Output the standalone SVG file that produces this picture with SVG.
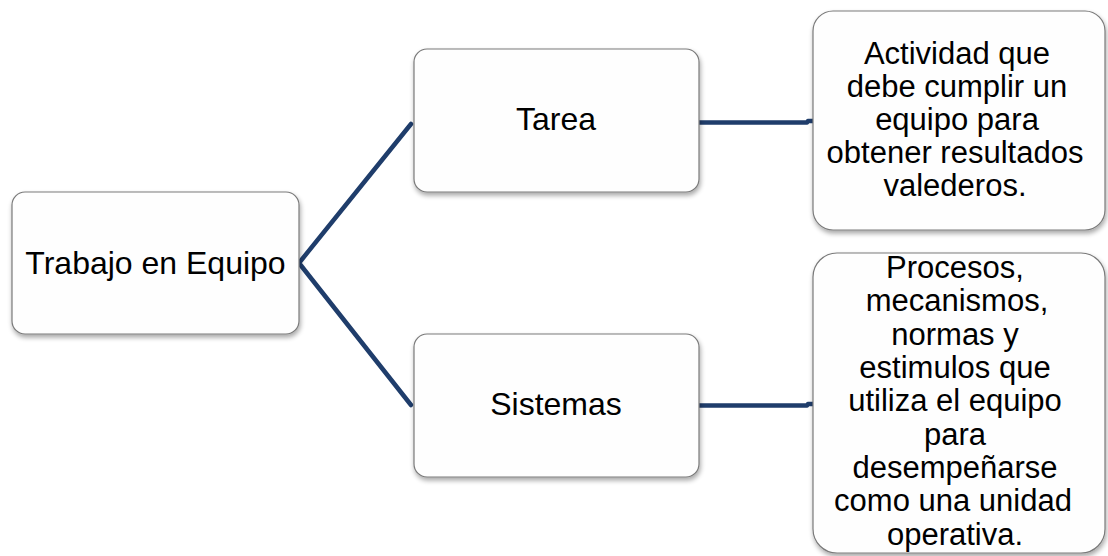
<svg xmlns="http://www.w3.org/2000/svg" width="1108" height="556" viewBox="0 0 1108 556">
<defs>
<filter id="sh" x="-10%" y="-10%" width="120%" height="125%">
<feGaussianBlur in="SourceAlpha" stdDeviation="2.5"/>
<feOffset dx="1" dy="3" result="b"/>
<feComponentTransfer><feFuncA type="linear" slope="0.35"/></feComponentTransfer>
<feMerge><feMergeNode/><feMergeNode in="SourceGraphic"/></feMerge>
</filter>
</defs>
<style>
.box{fill:#fefefe;stroke:#7a7a7a;stroke-width:1.2;filter:url(#sh)}
.t{font-family:"Liberation Sans",Arial,sans-serif;font-size:31px;fill:#000;text-anchor:middle}
.big{font-size:32px}
.c{fill:none;stroke:#1f3d6b;stroke-width:4.5;stroke-linecap:round;stroke-linejoin:round}
</style>
<rect width="1108" height="556" fill="#ffffff"/>
<g id="connectors">
<polyline class="c" points="411,124 299,263 411,405"/>
<polyline class="c" points="699,122.5 807,122.5 808,121 813,121"/>
<polyline class="c" points="699,405.5 807,405.5 808,404 813,404"/>
</g>
<g id="trabajo">
<rect class="box" x="12" y="192" width="287" height="142" rx="13"/>
<text class="t big" x="155.5" y="274">Trabajo en Equipo</text>
</g>
<g id="tarea">
<rect class="box" x="414" y="49" width="285" height="143" rx="13"/>
<text class="t big" x="556" y="130">Tarea</text>
</g>
<g id="sistemas">
<rect class="box" x="414" y="334" width="285" height="143" rx="13"/>
<text class="t big" x="556" y="415">Sistemas</text>
</g>
<g id="actividad">
<rect class="box" x="813" y="11" width="292" height="219" rx="20"/>
<text class="t" x="957" y="64">Actividad que</text>
<text class="t" x="957" y="97">debe cumplir un</text>
<text class="t" x="957" y="130">equipo para</text>
<text class="t" x="955" y="163">obtener resultados</text>
<text class="t" x="955" y="196">valederos.</text>
</g>
<g id="procesos">
<rect class="box" x="813" y="253" width="292" height="300" rx="24"/>
<text class="t" x="955" y="278">Procesos,</text>
<text class="t" x="957" y="311">mecanismos,</text>
<text class="t" x="955" y="345">normas y</text>
<text class="t" x="955" y="378">estimulos que</text>
<text class="t" x="955" y="411">utiliza el equipo</text>
<text class="t" x="955" y="445">para</text>
<text class="t" x="955" y="478">desempeñarse</text>
<text class="t" x="953" y="511">como una unidad</text>
<text class="t" x="955" y="545">operativa.</text>
</g>
</svg>
